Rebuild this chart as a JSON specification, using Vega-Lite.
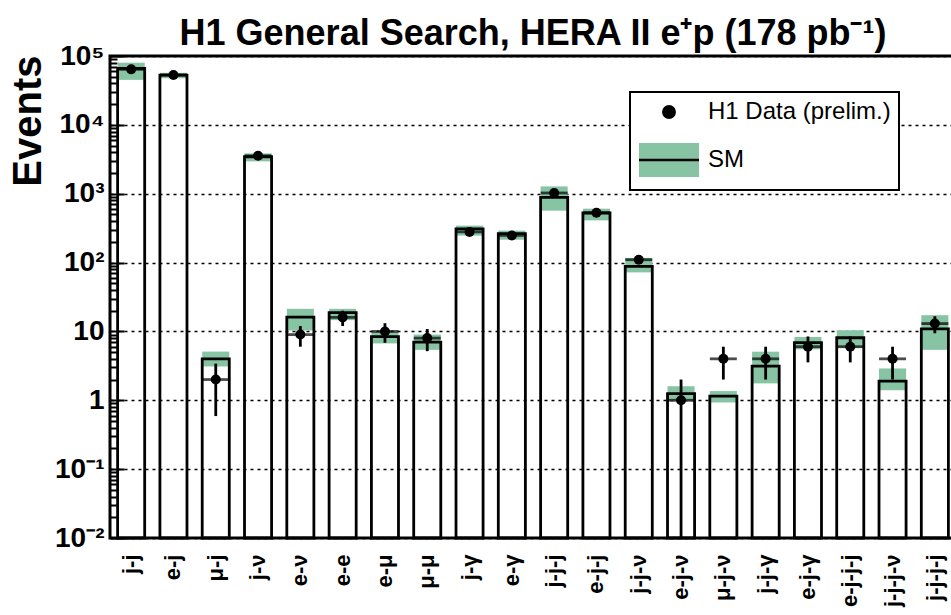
{
  "$schema": "https://vega.github.io/schema/vega-lite/v6.json",
  "width": 846,
  "height": 482,
  "autosize": {"type": "none"},
  "padding": {"left": 110, "top": 56, "right": 0, "bottom": 77},
  "background": "white",
  "title": {
    "text": "H1 General Search, HERA II e⁺p (178 pb⁻¹)",
    "font": "Liberation Sans",
    "fontSize": 36,
    "fontWeight": "bold",
    "color": "black",
    "anchor": "middle",
    "frame": "group",
    "baseline": "alphabetic",
    "offset": -39
  },
  "config": {
    "view": {"stroke": "black", "strokeWidth": 3},
    "font": "Liberation Sans"
  },
  "data": {
    "values": [
      {"cat": "j-j", "sm": 66000, "lo": 45000, "hi": 80000, "d": 64000, "dlo": 63750, "dhi": 64250},
      {"cat": "e-j", "sm": 52600, "lo": 47500, "hi": 57000, "d": 53000, "dlo": 52770, "dhi": 53230},
      {"cat": "μ-j", "sm": 4.0, "lo": 3.1, "hi": 5.1, "d": 2, "dlo": 0.59, "dhi": 3.41},
      {"cat": "j-ν", "sm": 3440, "lo": 2950, "hi": 3850, "d": 3550, "dlo": 3490, "dhi": 3610},
      {"cat": "e-ν", "sm": 16.1, "lo": 10.3, "hi": 21.3, "d": 9, "dlo": 6, "dhi": 12},
      {"cat": "e-e", "sm": 18.7, "lo": 14.6, "hi": 21.3, "d": 16, "dlo": 12, "dhi": 20},
      {"cat": "e-μ", "sm": 8.4, "lo": 6.7, "hi": 9.8, "d": 10, "dlo": 6.84, "dhi": 13.16},
      {"cat": "μ-μ", "sm": 7.0, "lo": 5.4, "hi": 9.0, "d": 8, "dlo": 5.17, "dhi": 10.83},
      {"cat": "j-γ", "sm": 308, "lo": 246, "hi": 344, "d": 279, "dlo": 262, "dhi": 296},
      {"cat": "e-γ", "sm": 263, "lo": 215, "hi": 291, "d": 248, "dlo": 232, "dhi": 264},
      {"cat": "j-j-j", "sm": 884, "lo": 567, "hi": 1277, "d": 1024, "dlo": 992, "dhi": 1056},
      {"cat": "e-j-j", "sm": 525, "lo": 410, "hi": 606, "d": 530, "dlo": 507, "dhi": 553},
      {"cat": "j-j-ν", "sm": 88, "lo": 72, "hi": 117, "d": 110, "dlo": 99.5, "dhi": 120.5},
      {"cat": "e-j-ν", "sm": 1.25, "lo": 0.98, "hi": 1.6, "d": 1, "dlo": 0.01, "dhi": 2},
      {"cat": "μ-j-ν", "sm": 1.15, "lo": 0.93, "hi": 1.36, "d": 4, "dlo": 2, "dhi": 6},
      {"cat": "j-j-γ", "sm": 3.14, "lo": 1.76, "hi": 5.08, "d": 4, "dlo": 2, "dhi": 6},
      {"cat": "e-j-γ", "sm": 6.86, "lo": 5.5, "hi": 8.3, "d": 6, "dlo": 3.55, "dhi": 8.45},
      {"cat": "e-j-j-j", "sm": 8.1, "lo": 5.8, "hi": 10.4, "d": 6, "dlo": 3.55, "dhi": 8.45},
      {"cat": "j-j-j-ν", "sm": 1.9, "lo": 1.4, "hi": 2.9, "d": 4, "dlo": 2, "dhi": 6},
      {"cat": "j-j-j-j", "sm": 10.9, "lo": 5.4, "hi": 17.2, "d": 13, "dlo": 9.4, "dhi": 16.6}
    ]
  },
  "encoding": {
    "x": {
      "field": "cat",
      "type": "nominal",
      "sort": null,
      "scale": {"paddingInner": 0.36, "paddingOuter": 0.18},
      "axis": {
        "title": null,
        "domain": false,
        "ticks": false,
        "labelAngle": 270,
        "labelFont": "Liberation Sans",
        "labelFontSize": 22,
        "labelFontWeight": "bold",
        "labelColor": "black",
        "labelPadding": 16,
        "grid": false
      }
    }
  },
  "layer": [
    {
      "mark": {"type": "bar", "stroke": null},
      "encoding": {
        "y": {
          "field": "lo",
          "type": "quantitative",
          "title": "Events",
          "scale": {"type": "log", "domain": [0.01, 100000], "nice": false},
          "axis": {
            "values": [0.01,0.02,0.03,0.04,0.05,0.06,0.07,0.08,0.09,0.1,0.2,0.3,0.4,0.5,0.6,0.7,0.8,0.9,1,2,3,4,5,6,7,8,9,10,20,30,40,50,60,70,80,90,100,200,300,400,500,600,700,800,900,1000,2000,3000,4000,5000,6000,7000,8000,9000,10000,20000,30000,40000,50000,60000,70000,80000,90000,100000],
            "domain": false,
            "tickSize": -14,
            "tickColor": "black",
            "tickWidth": 2,
            "tickDash": {"condition": {"test": "indexof([0.01,0.1,1,10,100,1000,10000,100000], datum.value) >= 0", "value": [30, 1]}, "value": [7, 50]},
            "labelOverlap": false,
            "labelBound": false,
            "labelFlush": false,
            "labelExpr": "datum.value == 100000 ? '10⁵' : datum.value == 10000 ? '10⁴' : datum.value == 1000 ? '10³' : datum.value == 100 ? '10²' : datum.value == 10 ? '10' : datum.value == 1 ? '1' : datum.value == 0.1 ? '10⁻¹' : datum.value == 0.01 ? '10⁻²' : ''",
            "labelFont": "Liberation Sans",
            "labelFontSize": 28,
            "labelFontWeight": "bold",
            "labelColor": "black",
            "labelPadding": 20,
            "grid": true,
            "gridColor": "black",
            "gridDash": [3, 4],
            "gridWidth": 1.5,
            "gridOpacity": {"condition": {"test": "indexof([0.01,0.1,1,10,100,1000,10000,100000], datum.value) >= 0", "value": 1}, "value": 0},
            "title": "Events",
            "titleFont": "Liberation Sans",
            "titleFontSize": 40,
            "titleFontWeight": "bold",
            "titleColor": "black",
            "titleAngle": 270,
            "titleAlign": "right",
            "titleBaseline": "alphabetic",
            "titleX": -70,
            "titleY": -1
          }
        },
        "y2": {"field": "hi"},
        "color": {
          "datum": "SM",
          "scale": {"domain": ["H1 Data (prelim.)", "SM"], "range": ["black", "#87c4a3"]},
          "legend": {
            "title": null,
            "orient": "none",
            "legendX": 520,
            "legendY": 36,
            "strokeColor": "black",
            "fillColor": "white",
            "padding": 8,
            "labelFont": "Liberation Sans",
            "labelFontSize": 24,
            "labelColor": "black",
            "labelOffset": 27,
            "labelLimit": 400,
            "rowPadding": 14,
            "symbolSize": 1600,
            "symbolOffset": 19,
            "encoding": {
              "legend": {
                "strokeWidth": {"value": 2}
              },
              "symbols": {
                "shape": {"value": {"expr": "datum.value == 'SM' ? 'M-1.5,0H1.5V-0.85H-1.5V0.85H1.5V0Z' : 'circle'"}},
                "size": {"value": {"expr": "datum.value == 'SM' ? 1600 : 130"}},
                "stroke": {"value": "black"},
                "strokeWidth": {"value": 2.5},
                "strokeDash": {"value": [60, 1000]}
              }
            }
          }
        }
      }
    },
    {
      "mark": {"type": "bar", "filled": false, "color": "black", "strokeWidth": 2.8},
      "encoding": {
        "y": {"field": "sm", "type": "quantitative", "title": "Events"},
        "y2": {"datum": 0.01}
      }
    },
    {
      "mark": {"type": "rule", "color": "black", "strokeWidth": 2.8},
      "encoding": {
        "y": {"field": "dlo", "type": "quantitative", "title": "Events"},
        "y2": {"field": "dhi"}
      }
    },
    {
      "mark": {"type": "tick", "color": "black", "thickness": 2.8, "size": 27, "orient": "horizontal"},
      "encoding": {
        "y": {"field": "d", "type": "quantitative", "title": "Events"}
      }
    },
    {
      "mark": {"type": "point", "filled": true, "shape": "circle", "size": 100, "opacity": 1},
      "encoding": {
        "y": {"field": "d", "type": "quantitative", "title": "Events"},
        "color": {"datum": "H1 Data (prelim.)"}
      }
    }
  ]
}
